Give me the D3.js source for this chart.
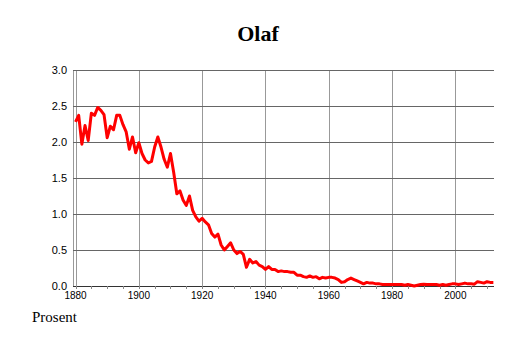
<!DOCTYPE html>
<html>
<head>
	<script src="https://cdn.jsdelivr.net/npm/d3@7"></script>
	<style>
		html, body {
			padding: 0;
			margin: 0;
			background: #fff;
		}
	</style>
</head>
<body>
	<script>
		var width = 514, height = 343;

		/* data: percent of newborns named Olaf, 1880-2012 */
		var firstYear = 1880;
		var values = [
			2.28, 2.37, 1.97, 2.23, 2.02, 2.40, 2.37, 2.48, 2.44, 2.38,
			2.06, 2.22, 2.17, 2.37, 2.37, 2.24, 2.14, 1.90, 2.07, 1.85,
			1.99, 1.84, 1.75, 1.71, 1.73, 1.93, 2.07, 1.93, 1.76, 1.65,
			1.84, 1.58, 1.28, 1.32, 1.19, 1.12, 1.25, 1.05, 0.96, 0.90,
			0.94, 0.89, 0.85, 0.73, 0.68, 0.72, 0.57, 0.50, 0.55, 0.60,
			0.50, 0.45, 0.48, 0.44, 0.26, 0.37, 0.32, 0.34, 0.29, 0.27,
			0.23, 0.27, 0.23, 0.23, 0.20, 0.21, 0.20, 0.20, 0.19, 0.19,
			0.15, 0.15, 0.13, 0.12, 0.14, 0.12, 0.13, 0.10, 0.12, 0.11,
			0.12, 0.12, 0.11, 0.09, 0.05, 0.06, 0.09, 0.11, 0.09, 0.07,
			0.05, 0.03, 0.05, 0.04, 0.04, 0.03, 0.03, 0.02, 0.02, 0.02,
			0.02, 0.02, 0.02, 0.02, 0.01, 0.02, 0.01, 0.00, 0.01, 0.02,
			0.025, 0.02, 0.02, 0.02, 0.02, 0.01, 0.02, 0.01, 0.02, 0.03,
			0.03, 0.02, 0.03, 0.04, 0.03, 0.03, 0.025, 0.06, 0.05, 0.04,
			0.06, 0.05, 0.05
		];
		var xTicks = [1880, 1900, 1920, 1940, 1960, 1980, 2000];
		var xMinorTicks = d3.range(1880, 2013, 5);
		var yTicks = [0, 0.5, 1.0, 1.5, 2.0, 2.5, 3.0];
		var title = "Olaf";
		var yTitle = "Prosent";

		var data = values.map(function(v, i) {
			return { year: firstYear + i, value: v };
		});

		var svg = d3.select('body').append('svg')
			.attr('width', width)
			.attr('height', height)
			.style('display', 'block');

		var x = d3.scaleLinear().domain([1879.2, 2012.2]).range([73, 494]);
		var y = d3.scaleLinear().domain([0, 3]).range([286, 70]);

		// vertical grid
		svg.append('g').selectAll('line')
			.data(xTicks)
			.enter().append('line')
			.attr('x1', function(d) { return Math.round(x(d)) + 0.5; })
			.attr('x2', function(d) { return Math.round(x(d)) + 0.5; })
			.attr('y1', y(3))
			.attr('y2', y(0))
			.style('stroke', '#999')
			.style('stroke-width', 1);

		// left edge
		svg.append('line')
			.attr('x1', 73.5).attr('x2', 73.5)
			.attr('y1', y(3)).attr('y2', y(0))
			.style('stroke', '#999');

		// horizontal grid
		svg.append('g').selectAll('line')
			.data(yTicks)
			.enter().append('line')
			.attr('x1', 73)
			.attr('x2', 494)
			.attr('y1', function(d) { return Math.round(y(d)) + 0.5; })
			.attr('y2', function(d) { return Math.round(y(d)) + 0.5; })
			.style('stroke', function(d) { return d === 0 ? '#333' : '#666'; })
			.style('stroke-width', 1);

		// minor ticks below the axis
		svg.append('g').selectAll('line')
			.data(xMinorTicks)
			.enter().append('line')
			.attr('x1', function(d) { return Math.round(x(d)) + 0.5; })
			.attr('x2', function(d) { return Math.round(x(d)) + 0.5; })
			.attr('y1', y(0))
			.attr('y2', y(0) + 3)
			.style('stroke', '#888');

		// y labels
		svg.append('g').selectAll('text')
			.data(yTicks)
			.enter().append('text')
			.attr('x', 67)
			.attr('y', function(d) { return y(d) + 4; })
			.attr('text-anchor', 'end')
			.style('font-family', '"Liberation Sans", Arial, sans-serif')
			.style('font-size', '11px')
			.text(function(d) { return d3.format('.1f')(d); });

		// x labels
		svg.append('g').selectAll('text')
			.data(xTicks)
			.enter().append('text')
			.attr('x', function(d) { return x(d); })
			.attr('y', 299)
			.attr('text-anchor', 'middle')
			.style('font-family', '"Liberation Sans", Arial, sans-serif')
			.style('font-size', '10px')
			.text(function(d) { return d; });

		// the series
		var line = d3.line()
			.x(function(d) { return x(d.year); })
			.y(function(d) { return y(d.value); });

		svg.append('path')
			.datum(data)
			.attr('d', line)
			.style('fill', 'none')
			.style('stroke', '#ff0000')
			.style('stroke-width', 3)
			.style('stroke-linejoin', 'round');

		// title
		svg.append('text')
			.attr('x', 258)
			.attr('y', 41)
			.attr('text-anchor', 'middle')
			.style('font-family', '"Liberation Serif", "Times New Roman", serif')
			.style('font-weight', 'bold')
			.style('font-size', '22px')
			.text(title);

		svg.append('text')
			.attr('x', 32)
			.attr('y', 322)
			.style('font-family', '"Liberation Serif", "Times New Roman", serif')
			.style('font-size', '15px')
			.text(yTitle);
	</script>
</body>
</html>
